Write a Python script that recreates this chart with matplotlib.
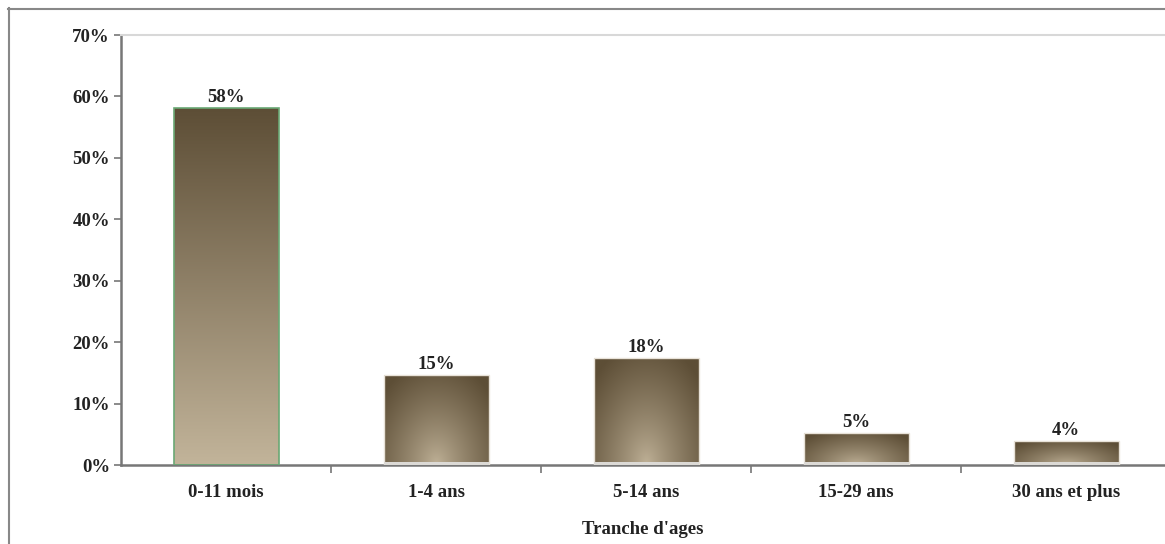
import matplotlib
matplotlib.use('Agg')
import matplotlib.pyplot as plt
import numpy as np
from matplotlib.lines import Line2D

# data
categories = ['0-11 mois', '1-4 ans', '5-14 ans', '15-29 ans', '30 ans et plus']
values = [58.1, 14.7, 17.4, 5.2, 3.9]
value_labels = ['58%', '15%', '18%', '5%', '4%']
yticks = [0, 10, 20, 30, 40, 50, 60, 70]

dark = np.array([0x5d, 0x4e, 0x36]) / 255
light = np.array([0xc2, 0xb4, 0x9a]) / 255

plt.rcParams['font.family'] = ['Liberation Serif', 'DejaVu Serif']

fig = plt.figure(figsize=(11.65, 5.44), dpi=100)
ax = fig.add_axes([121 / 1165, 79 / 544, 1 - 121 / 1165, 430 / 544])

x = np.arange(len(categories))
width = 0.5
bars = ax.bar(x, values, width=width, color='none', zorder=2)

for i, b in enumerate(bars):
    h = values[i]
    n = 200
    u = np.linspace(0, 1, n)
    v = np.linspace(0, 1, n)
    U, V = np.meshgrid(u, v)
    if i == 0:
        t = V
    else:
        t = np.sqrt(((U - 0.5) * 2) ** 2 + (V * 1.2) ** 2) / 1.4
        t = np.clip(t, 0, 1) ** 0.8
    img = light[None, None, :] * (1 - t[..., None]) + dark[None, None, :] * t[..., None]
    im = ax.imshow(img, origin='lower', extent=(i - width / 2, i + width / 2, 0, h),
                   aspect='auto', zorder=2, interpolation='bilinear')
    im.set_clip_path(b)
    if i == 0:
        ax.bar(i, h, width=width, color='none', edgecolor='#6aa874', linewidth=1.2, zorder=3)
    else:
        ax.bar(i, h, width=width, color='none', edgecolor='#e8e2d8', linewidth=1.0, zorder=3)
        ax.bar(i, 0.5, width=width, color='#dcdad6', zorder=3)
    ax.text(i, h + 0.3, value_labels[i], ha='center', va='bottom',
            fontsize=13.5, fontweight='bold', color='#222222')

ax.set_xlim(-0.5, -0.5 + (1165 - 121) / 210)
ax.set_ylim(0, 70)
ax.set_yticks(yticks)
ax.set_yticklabels([f'{t}%' for t in yticks], fontsize=13.5, fontweight='bold', color='#222222')
ax.set_xticks(x)
ax.set_xticklabels(categories, fontsize=13.5, fontweight='bold', color='#222222')
ax.set_xticks(x[:-1] + 0.5, minor=True)
ax.tick_params(axis='x', which='major', length=0, pad=14)
ax.tick_params(axis='x', which='minor', length=6, width=1.2, color='#777777', direction='out')
ax.tick_params(axis='y', length=5, width=1.2, color='#777777', pad=3)
ax.set_xlabel("Tranche d'ages", fontsize=13.5, fontweight='bold', color='#222222', labelpad=14)

ax.spines['right'].set_visible(False)
ax.spines['top'].set_color('#d8d8d8')
ax.spines['top'].set_linewidth(1.5)
ax.spines['left'].set_color('#777777')
ax.spines['left'].set_linewidth(1.8)
ax.spines['bottom'].set_color('#777777')
ax.spines['bottom'].set_linewidth(1.8)

# outer frame of the original picture
fig.add_artist(Line2D([8 / 1165, 1], [1 - 8.5 / 544, 1 - 8.5 / 544], color='#888888', lw=1.5))
fig.add_artist(Line2D([8.5 / 1165, 8.5 / 1165], [0, 1 - 8 / 544], color='#888888', lw=1.5))

fig.savefig('out.png', dpi=100)
